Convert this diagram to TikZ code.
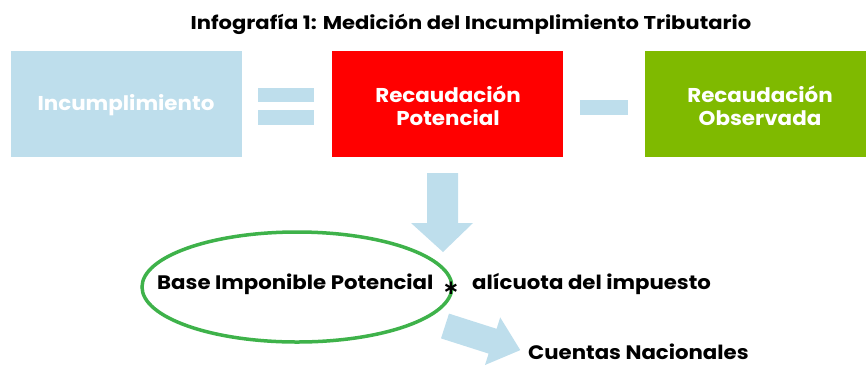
\documentclass[tikz,border=0pt]{standalone}
\usepackage{fontspec}
\setmainfont{Poppins}
\newfontfamily\titlefam[FakeStretch=1.14]{Poppins}
\newfontfamily\boxfam[FakeStretch=1.07]{Poppins}
\newfontfamily\plainfam[FakeStretch=1.09]{Poppins}
\newfontfamily\symfam{DejaVu Sans}
\definecolor{lblue}{RGB}{190,222,236}
\definecolor{rred}{RGB}{255,0,0}
\definecolor{ggreen}{RGB}{127,186,0}
\definecolor{egreen}{RGB}{62,178,74}
\tikzset{
  boxtext/.style={text=white,font=\boxfam\bfseries\fontsize{20}{23}\selectfont,align=center},
  plain/.style={font=\plainfam\bfseries\fontsize{19.5}{22}\selectfont,inner sep=0pt},
  bararrow/.style={fill=lblue,draw=none}
}
\begin{document}
\begin{tikzpicture}[x=1pt,y=-1pt]
\useasboundingbox (0,0) rectangle (866,365);
\node[font=\titlefam\bfseries\fontsize{18.5}{20}\selectfont] (title) at (471,24) {Infografía 1: Medición del Incumplimiento Tributario};
% boxes
\fill[lblue] (11,51) rectangle (242,157);
\node[boxtext] (b1) at (126,105) {Incumplimiento};
\fill[lblue] (258,88) rectangle (314,102);
\fill[lblue] (258,110) rectangle (314,125);
\fill[rred] (332,51) rectangle (563,157);
\node[boxtext] (b2) at (448,106) {Recaudación\\Potencial};
\fill[lblue] (580,100) rectangle (628,115);
\fill[ggreen] (645,51) rectangle (866,157);
\node[boxtext] (b3) at (760,106) {Recaudación\\Observada};
% down arrow
\fill[bararrow] (427,173) -- (458,173) -- (458,223) -- (473,223) -- (443,252) -- (411,223) -- (427,223) -- cycle;
% ellipse
\draw[egreen,line width=3.5pt] (297,287) ellipse [x radius=155, y radius=55];
% formula
\node[plain,anchor=west] (base) at (157,284) {Base Imponible Potencial};
\node[inner sep=0pt] (star) at (451,288) {\symfam\bfseries\fontsize{20}{20}\selectfont ∗};
\node[plain,anchor=west] (alic) at (472,284) {alícuota del impuesto};
% diagonal arrow
\fill[bararrow] (449,313.6) -- (496.6,328.8) -- (500.2,317.4) -- (520.3,350.1) -- (485,365) -- (488.6,353.6) -- (441,338.4) -- cycle;
\node[plain,anchor=west] (cn) at (528,352) {Cuentas Nacionales};
\end{tikzpicture}
\end{document}
